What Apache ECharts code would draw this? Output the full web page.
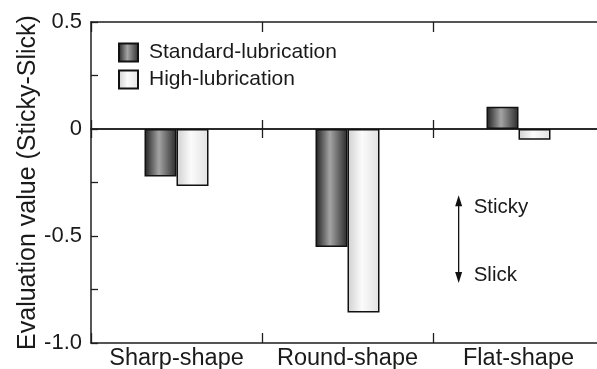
<!DOCTYPE html>
<html>
<head>
<meta charset="utf-8">
<script src="https://cdn.jsdelivr.net/npm/echarts@6/dist/echarts.min.js"></script>
<style>html,body{margin:0;padding:0;background:#fff}#c{width:597px;height:369px}</style>
</head>
<body>
<div id="c"></div>
<script>
var categories = ['Sharp-shape', 'Round-shape', 'Flat-shape'];
var standardLub = [-0.222, -0.551, 0.104];
var highLub = [-0.266, -0.858, -0.05];
var seriesNames = ['Standard-lubrication', 'High-lubrication'];
var yTicks = [-1.0, -0.5, 0, 0.5];
var yAxisName = 'Evaluation value (Sticky-Slick)';
var arrowRange = [-0.31, -0.72];
var annotText = ['Sticky', 'Slick'];

var FONT = '"Liberation Sans", Arial, Helvetica, sans-serif';
var AX = '#1e1e1e';

var chart = echarts.init(document.getElementById('c'), null, {renderer: 'canvas'});

function xAx(extra) {
  var base = {
    type: 'category', data: categories, boundaryGap: true,
    axisLine: {show: true, onZero: false, lineStyle: {color: AX, width: 1.5}},
    axisTick: {show: true, inside: true, length: 10, interval: 0, lineStyle: {color: AX, width: 1.3}},
    axisLabel: {show: false}, splitLine: {show: false}
  };
  return Object.assign(base, extra);
}

var option = {
  backgroundColor: '#fff',
  animation: false,
  textStyle: {fontFamily: FONT},
  grid: {left: 91, top: 22, width: 513, bottom: 26, outerBoundsMode: 'none', containLabel: false},
  legend: {
    orient: 'vertical', left: 118, top: 42, padding: 0, itemWidth: 19, itemHeight: 18, itemGap: 6,
    icon: 'rect',
    textStyle: {fontSize: 21, color: '#1a1a1a', fontFamily: FONT, padding: [0, 0, 0, 6]},
    data: seriesNames
  },
  xAxis: [
    xAx({position: 'bottom', axisLabel: {show: true, interval: 0, fontSize: 23.5, color: '#1a1a1a', margin: 4, fontFamily: FONT}}),
    xAx({position: 'top'}),
    xAx({position: 'bottom', axisLine: {show: true, onZero: true, onZeroAxisIndex: 0, lineStyle: {color: AX, width: 1.5}},
         axisTick: {show: true, inside: true, length: 9, interval: 0, lineStyle: {color: AX, width: 1.3}}}),
    xAx({position: 'bottom', axisLine: {show: true, onZero: true, onZeroAxisIndex: 0, lineStyle: {color: AX, width: 1.5}},
         axisTick: {show: true, inside: false, length: 9, interval: 0, lineStyle: {color: AX, width: 1.3}}})
  ],
  yAxis: [
    {
      type: 'value', min: yTicks[0], max: yTicks[yTicks.length - 1], interval: 0.5, position: 'left',
      name: yAxisName, nameLocation: 'middle', nameGap: 50, nameMoveOverlap: false,
      nameTextStyle: {fontSize: 25, color: '#1a1a1a', fontFamily: FONT},
      axisLine: {show: true, onZero: false, lineStyle: {color: AX, width: 1.5}},
      axisTick: {show: true, inside: true, length: 7, lineStyle: {color: AX, width: 1.3}},
      minorTick: {show: true, splitNumber: 2, length: 7, lineStyle: {color: AX, width: 1.3}},
      axisLabel: {fontSize: 22, color: '#1a1a1a', margin: 9, fontFamily: FONT,
        formatter: function (v) { return v === 0 ? '0' : v.toFixed(1); }},
      splitLine: {show: false}
    },
    {
      type: 'value', min: yTicks[0], max: yTicks[yTicks.length - 1], interval: 0.5, position: 'right',
      axisLine: {show: true, onZero: false, lineStyle: {color: AX, width: 1.5}},
      axisTick: {show: true, inside: true, length: 7, lineStyle: {color: AX, width: 1.3}},
      minorTick: {show: true, splitNumber: 2, length: 7, lineStyle: {color: AX, width: 1.3}},
      axisLabel: {show: false}, splitLine: {show: false}
    }
  ],
  series: [
    {
      name: seriesNames[0], type: 'bar', data: standardLub, barWidth: 32, barGap: '0%',
      xAxisIndex: 0, yAxisIndex: 0,
      itemStyle: {
        borderColor: '#111', borderWidth: 1.5,
        color: new echarts.graphic.LinearGradient(0, 0, 1, 0, [
          {offset: 0, color: '#1e1e1e'}, {offset: 0.45, color: '#a4a4a4'}, {offset: 1, color: '#2a2a2a'}
        ])
      }
    },
    {
      name: seriesNames[1], type: 'bar', data: highLub, barWidth: 32, barGap: '0%',
      xAxisIndex: 0, yAxisIndex: 0,
      itemStyle: {
        borderColor: '#111', borderWidth: 1.5,
        color: new echarts.graphic.LinearGradient(0, 0, 1, 0, [
          {offset: 0, color: '#cfcfcf'}, {offset: 0.45, color: '#fbfbfb'}, {offset: 1, color: '#e2e2e2'}
        ])
      }
    }
  ]
};
chart.setOption(option);

// annotation arrow positioned through the axes
var yTop = chart.convertToPixel({yAxisIndex: 0}, arrowRange[0]);
var yBot = chart.convertToPixel({yAxisIndex: 0}, arrowRange[1]);
var xR = chart.convertToPixel({xAxisIndex: 0}, categories[1]);
var xF = chart.convertToPixel({xAxisIndex: 0}, categories[2]);
var ax = xR + (xF - xR) * 0.65;
chart.setOption({
  graphic: [
    {type: 'line', shape: {x1: ax, y1: yTop + 8, x2: ax, y2: yBot - 8}, style: {stroke: '#111', lineWidth: 1.3}},
    {type: 'polygon', shape: {points: [[ax, yTop], [ax - 3.5, yTop + 11], [ax + 3.5, yTop + 11]]}, style: {fill: '#111'}},
    {type: 'polygon', shape: {points: [[ax, yBot], [ax - 3.5, yBot - 11], [ax + 3.5, yBot - 11]]}, style: {fill: '#111'}},
    {type: 'text', x: ax + 15, y: yTop + 12, style: {text: annotText[0], font: '20.5px ' + FONT, fill: '#1a1a1a', verticalAlign: 'middle'}},
    {type: 'text', x: ax + 15, y: yBot - 8, style: {text: annotText[1], font: '20.5px ' + FONT, fill: '#1a1a1a', verticalAlign: 'middle'}}
  ]
});
</script>
</body>
</html>
